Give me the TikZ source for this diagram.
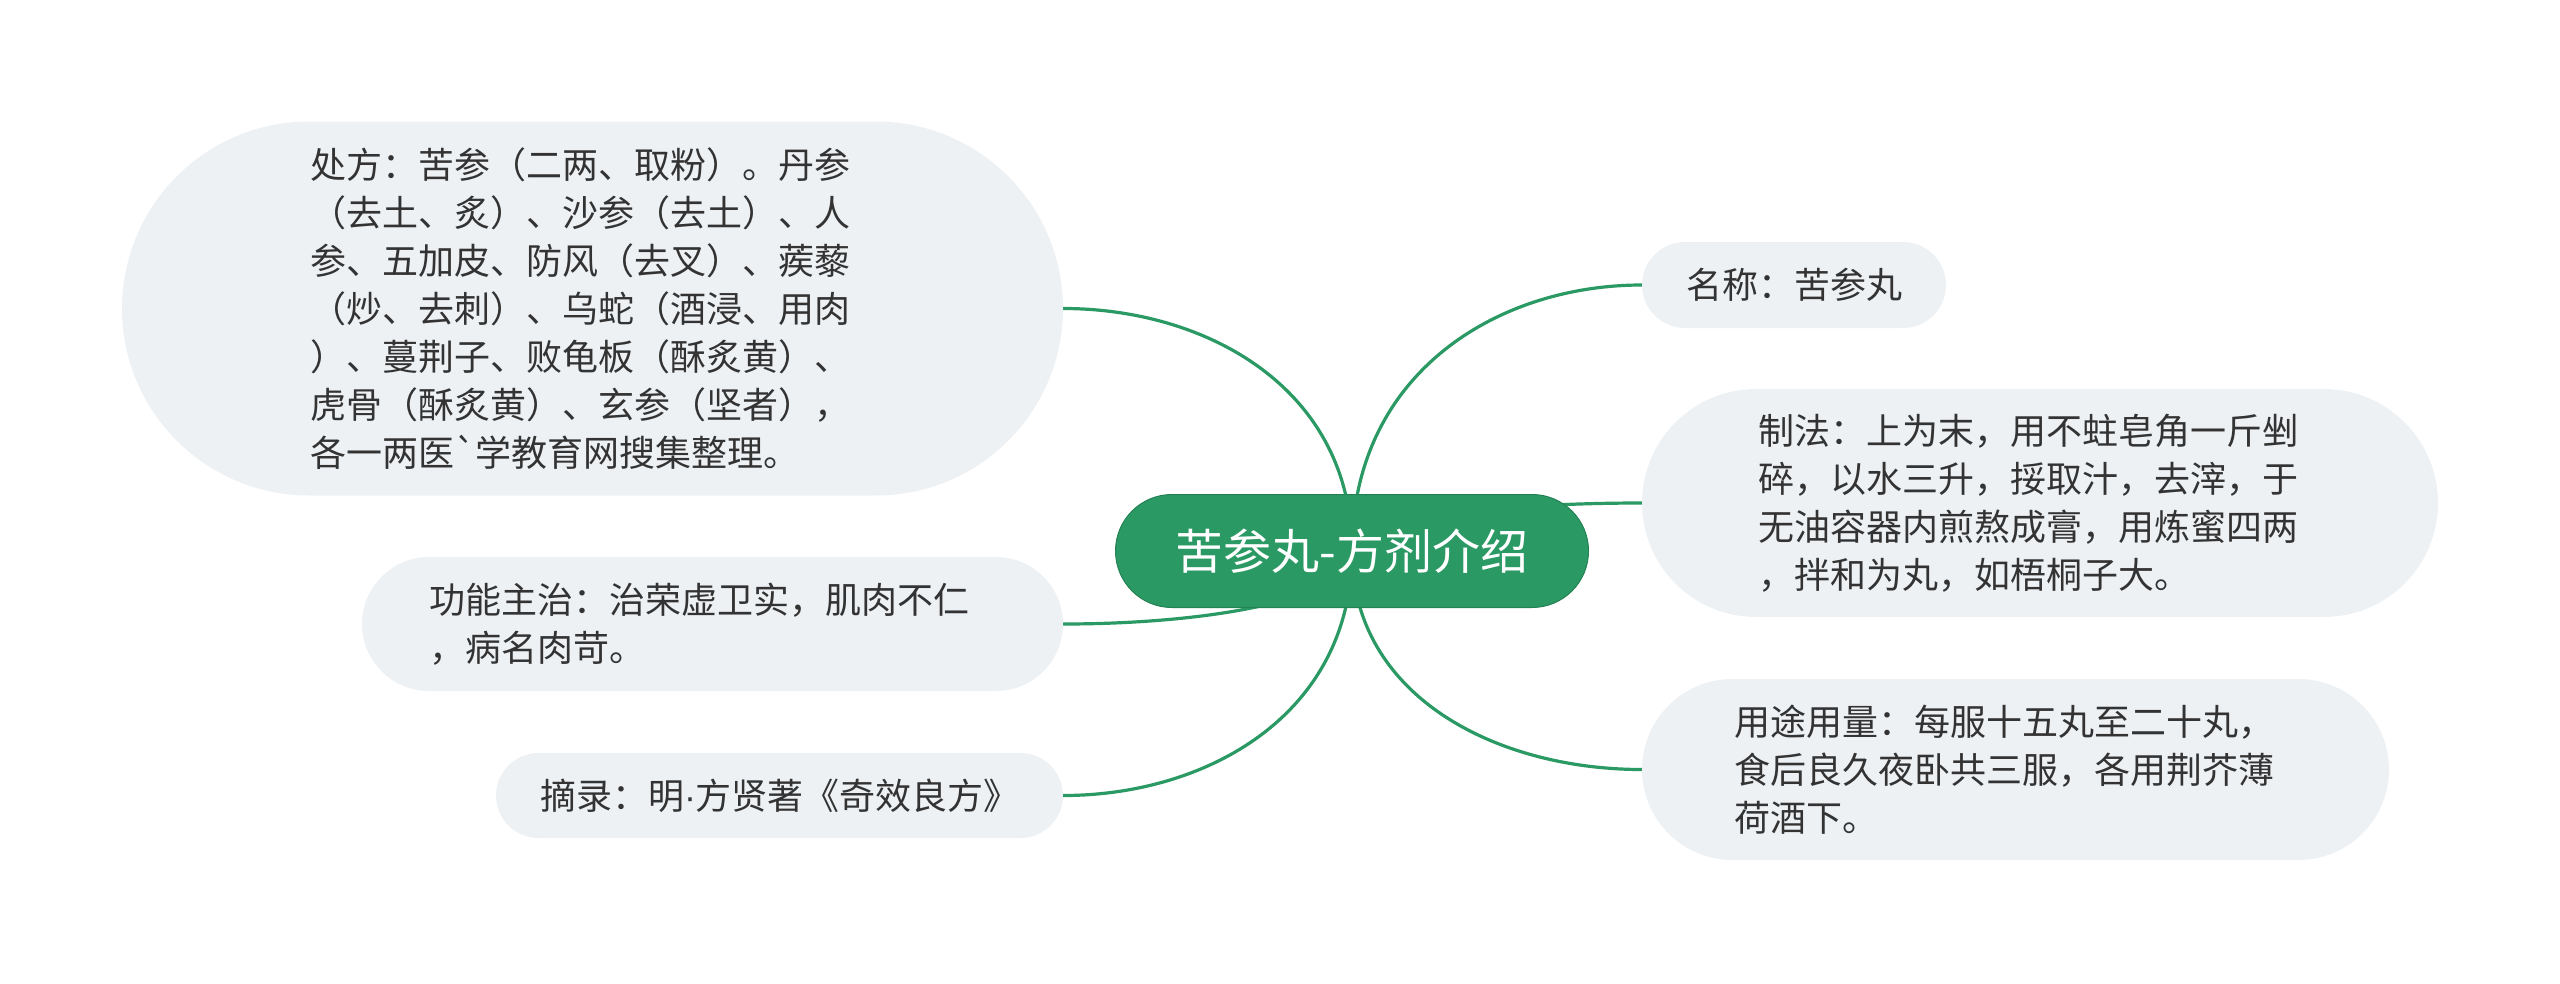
\documentclass[tikz,border=0pt]{standalone}
\usepackage{fontspec}
\newfontfamily\cjk{Noto Sans CJK SC}
\newfontfamily\lat{Liberation Sans}
\usetikzlibrary{shapes.misc,backgrounds,calc}
\definecolor{mgreen}{RGB}{42,153,100}
\definecolor{bubble}{RGB}{238,241,244}
\definecolor{txt}{RGB}{51,51,51}
\tikzset{
  bub/.style={rounded rectangle, fill=bubble, text=txt, align=left,
    font=\cjk\fontsize{36}{48}\selectfont, inner sep=0pt},
  root/.style={rounded rectangle, fill=mgreen, draw=mgreen!85!black, line width=1pt, text=white,
    font=\cjk\fontsize{48}{60}\selectfont, inner sep=0pt},
  conn/.style={draw=mgreen, line width=3.2pt},
}
\newcommand{\branch}[2]{%
  \draw[conn] (c.center) .. controls ($(c.center)!0.667!(c.center |- #1.#2)$)
     and ($(#1.#2)!0.5!(c.center |- #1.#2)$) .. (#1.#2);}
\begin{document}
\begin{tikzpicture}[x=1pt,y=-1pt]
\useasboundingbox (0,0) rectangle (2560,983);
\node[root, minimum width=473pt, minimum height=113pt] (c) at (1352,551) {苦参丸-方剂介绍};
\node[bub, minimum width=941pt, minimum height=374pt, text width=565pt] (a) at (592.5,308.5)
 {处方：苦参（二两、取粉）。丹参\\
（去土、炙）、沙参（去土）、人\\
参、五加皮、防风（去叉）、蒺藜\\
（炒、去刺）、乌蛇（酒浸、用肉\\
）、蔓荆子、败龟板（酥炙黄）、\\
虎骨（酥炙黄）、玄参（坚者），\\
各一两医\textasciigrave 学教育网搜集整理。};
\node[bub, minimum width=701pt, minimum height=134pt, text width=567pt] (b) at (712.5,624)
 {功能主治：治荣虚卫实，肌肉不仁\\，病名肉苛。};
\node[bub, minimum width=567pt, minimum height=85pt, text width=479pt] (s) at (779.5,795.5)
 {摘录：明{\lat ·}方贤著《奇效良方》};
\node[bub, minimum width=304pt, minimum height=86pt, text width=216pt] (d) at (1794,285)
 {名称：苦参丸};
\node[bub, minimum width=796pt, minimum height=228pt, text width=564pt] (e) at (2040,503)
 {制法：上为末，用不蛀皂角一斤剉\\碎，以水三升，挼取汁，去滓，于\\无油容器内煎熬成膏，用炼蜜四两\\，拌和为丸，如梧桐子大。};
\node[bub, minimum width=747pt, minimum height=181pt, text width=563pt] (f) at (2015.5,769.5)
 {用途用量：每服十五丸至二十丸，\\食后良久夜卧共三服，各用荆芥薄\\荷酒下。};
\begin{scope}[on background layer]
\branch{a}{east}
\branch{b}{east}
\branch{s}{east}
\branch{d}{west}
\branch{e}{west}
\branch{f}{west}
\end{scope}
\end{tikzpicture}
\end{document}
